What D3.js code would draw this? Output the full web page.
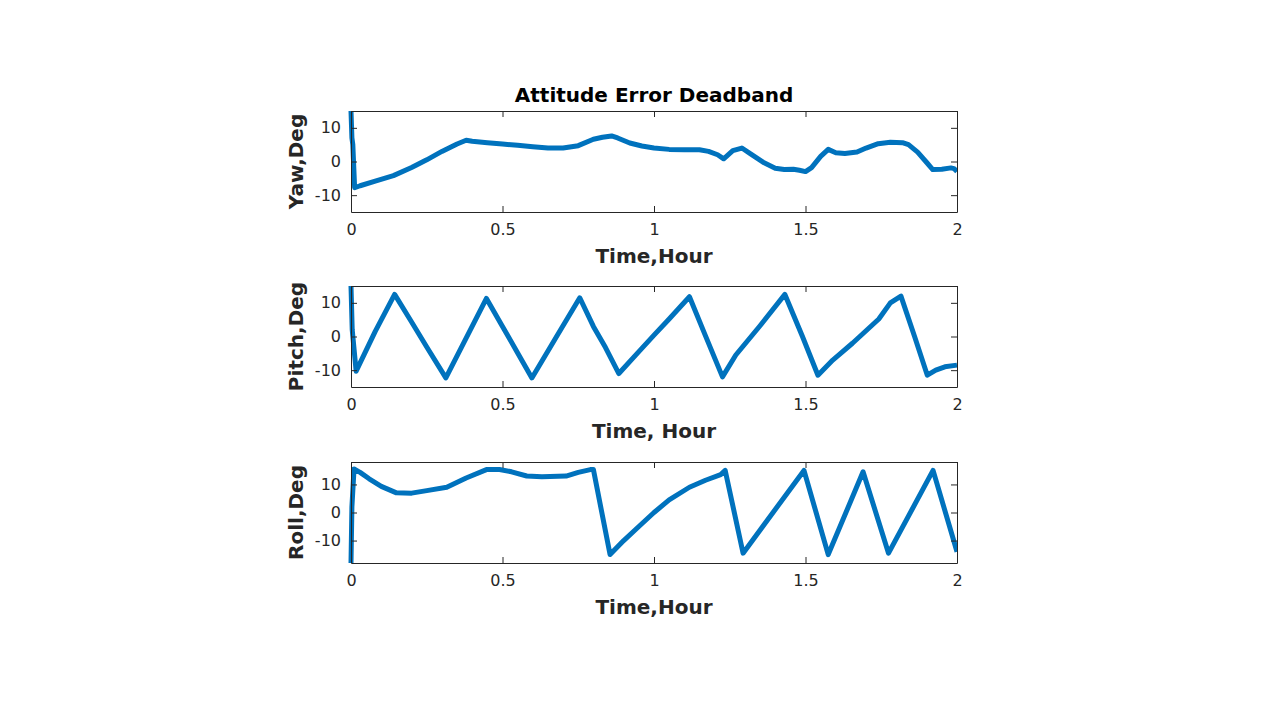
<!DOCTYPE html>
<html>
<head>
<meta charset="utf-8">
<script src="https://cdn.jsdelivr.net/npm/d3@7"></script>
<style>
  html, body { margin: 0; padding: 0; background: #fff; }
  svg { display: block; }
</style>
</head>
<body>
<script>
// ---------------- DATA ----------------
const title = "Attitude Error Deadband";
const xTicks = [0, 0.5, 1, 1.5, 2];
const xTickLabels = ["0", "0.5", "1", "1.5", "2"];
const yTicks = [-10, 0, 10];
const yTickLabels = ["-10", "0", "10"];

const yawTime = [0, 0.003, 0.006, 0.012, 0.03, 0.08, 0.14, 0.2, 0.25, 0.3, 0.35, 0.38, 0.4, 0.45, 0.5, 0.55, 0.6, 0.65, 0.7, 0.75, 0.8, 0.83, 0.86, 0.88, 0.92, 0.96, 1.0, 1.05, 1.1, 1.15, 1.18, 1.21, 1.23, 1.26, 1.29, 1.32, 1.36, 1.4, 1.43, 1.46, 1.48, 1.5, 1.52, 1.55, 1.575, 1.6, 1.63, 1.67, 1.7, 1.74, 1.78, 1.82, 1.84, 1.87, 1.9, 1.92, 1.95, 1.98, 1.99, 2.0];
const yawDeg = [15, 7, 5, -7.8, -7.2, -5.8, -4.2, -1.8, 0.5, 3.0, 5.2, 6.3, 6.0, 5.6, 5.2, 4.8, 4.4, 4.0, 4.0, 4.7, 6.6, 7.2, 7.6, 7.0, 5.5, 4.6, 4.0, 3.6, 3.5, 3.5, 3.0, 2.0, 0.8, 3.2, 4.0, 2.2, -0.2, -2.0, -2.4, -2.3, -2.6, -3.0, -1.8, 1.5, 3.6, 2.6, 2.4, 2.8, 4.0, 5.3, 5.7, 5.6, 5.0, 2.8, -0.3, -2.4, -2.3, -1.9, -2.1, -3.0];

const pitchTime = [0, 0.004, 0.017, 0.08, 0.144, 0.2, 0.25, 0.313, 0.38, 0.447, 0.5, 0.55, 0.597, 0.68, 0.755, 0.8, 0.84, 0.884, 0.95, 1.0, 1.05, 1.117, 1.17, 1.226, 1.27, 1.35, 1.432, 1.49, 1.541, 1.59, 1.655, 1.742, 1.78, 1.815, 1.86, 1.902, 1.93, 1.96, 2.0];
const pitchDeg = [15, 2, -10.3, 1.5, 12.5, 4.3, -3.1, -12.3, -0.5, 11.3, 3, -4.9, -12.3, 0.2, 11.5, 3, -3.3, -11, -4.5, 0.4, 5.2, 11.8, 0.2, -12, -5.5, 3.2, 12.5, 0, -11.5, -7, -2, 5.2, 10, 12, 0, -11.5, -10, -9, -8.5];

const rollTime = [0, 0.003, 0.01, 0.03, 0.06, 0.1, 0.15, 0.2, 0.25, 0.316, 0.38, 0.447, 0.49, 0.53, 0.58, 0.63, 0.71, 0.75, 0.79, 0.80, 0.855, 0.9, 0.95, 1.0, 1.05, 1.117, 1.17, 1.22, 1.235, 1.294, 1.495, 1.575, 1.69, 1.774, 1.921, 2.0];
const rollDeg = [-18, 2, 15.5, 14.3, 12, 9.3, 7, 6.9, 7.8, 9, 12.3, 15.3, 15.3, 14.5, 13, 12.7, 13, 14.3, 15.3, 15.3, -15, -10, -5, 0, 4.5, 9, 11.5, 13.5, 15, -14.5, 15, -15, 14.5, -14.5, 15, -14];

const panels = [
  { ylabel: "Yaw,Deg",   xlabel: "Time,Hour",  t: yawTime,   v: yawDeg,   ydom: [-15, 15] },
  { ylabel: "Pitch,Deg", xlabel: "Time, Hour", t: pitchTime, v: pitchDeg, ydom: [-15, 15] },
  { ylabel: "Roll,Deg",  xlabel: "Time,Hour",  t: rollTime,  v: rollDeg,  ydom: [-18, 18] }
];

// ---------------- LAYOUT ----------------
const W = 1280, H = 720;
const axLeft = 351, axRight = 957;
const axTops = [111, 286, 462];
const axH = 101;
const lineColor = "#0072BD";
const axColor = "#262626";
const font = "'DejaVu Sans', sans-serif";

const svg = d3.select("body").append("svg")
  .attr("width", W).attr("height", H)
  .style("background", "#fff");

svg.append("text")
  .attr("x", (axLeft + axRight) / 2)
  .attr("y", 101.5)
  .attr("text-anchor", "middle")
  .attr("font-family", font)
  .attr("font-weight", "bold")
  .attr("font-size", 20)
  .attr("fill", "#000")
  .text(title);

const x = d3.scaleLinear().domain([0, 2]).range([axLeft, axRight]);

panels.forEach((p, i) => {
  const top = axTops[i], bottom = top + axH;
  const y = d3.scaleLinear().domain(p.ydom).range([bottom, top]);
  const g = svg.append("g");

  const clipId = "clip" + i;
  svg.append("clipPath").attr("id", clipId)
    .append("rect").attr("x", axLeft - 3).attr("y", top - 1)
    .attr("width", axRight - axLeft + 4).attr("height", axH + 2);

  // line
  const data = p.t.map((t, k) => [t, p.v[k]]);
  g.append("path")
    .datum(data)
    .attr("clip-path", `url(#${clipId})`)
    .attr("fill", "none")
    .attr("stroke", lineColor)
    .attr("stroke-width", 5)
    .attr("stroke-linejoin", "round")
    .attr("stroke-linecap", "butt")
    .attr("d", d3.line().x(d => x(d[0])).y(d => y(d[1])));

  // axes (ticks inside, mirrored)
  const tl = 6;
  const xb = d3.axisBottom(x).tickValues(xTicks).tickFormat((d, k) => xTickLabels[k]).tickSizeInner(-tl).tickSizeOuter(0).tickPadding(12);
  const xt = d3.axisTop(x).tickValues(xTicks).tickFormat("").tickSizeInner(-tl).tickSizeOuter(0);
  const yl = d3.axisLeft(y).tickValues(yTicks).tickFormat((d, k) => yTickLabels[k]).tickSizeInner(-tl).tickSizeOuter(0).tickPadding(10);
  const yr = d3.axisRight(y).tickValues(yTicks).tickFormat("").tickSizeInner(-tl).tickSizeOuter(0);

  const styleAxis = sel => {
    sel.selectAll("path").attr("stroke", axColor).attr("stroke-width", 1);
    sel.selectAll("line").attr("stroke", axColor).attr("stroke-width", 1);
    sel.selectAll("text").attr("fill", axColor).attr("font-family", font).attr("font-size", 16);
  };
  svg.append("g").attr("transform", `translate(0,${bottom})`).call(xb).call(styleAxis);
  svg.append("g").attr("transform", `translate(0,${top})`).call(xt).call(styleAxis);
  svg.append("g").attr("transform", `translate(${axLeft},0)`).call(yl).call(styleAxis);
  svg.append("g").attr("transform", `translate(${axRight},0)`).call(yr).call(styleAxis);

  // labels
  svg.append("text")
    .attr("x", (axLeft + axRight) / 2)
    .attr("y", bottom + 51)
    .attr("text-anchor", "middle")
    .attr("font-family", font)
    .attr("font-weight", "bold")
    .attr("font-size", 20)
    .attr("fill", axColor)
    .text(p.xlabel);

  svg.append("text")
    .attr("transform", `translate(303,${(top + bottom) / 2}) rotate(-90)`)
    .attr("text-anchor", "middle")
    .attr("font-family", font)
    .attr("font-weight", "bold")
    .attr("font-size", 20)
    .attr("fill", axColor)
    .text(p.ylabel);
});
</script>
</body>
</html>
